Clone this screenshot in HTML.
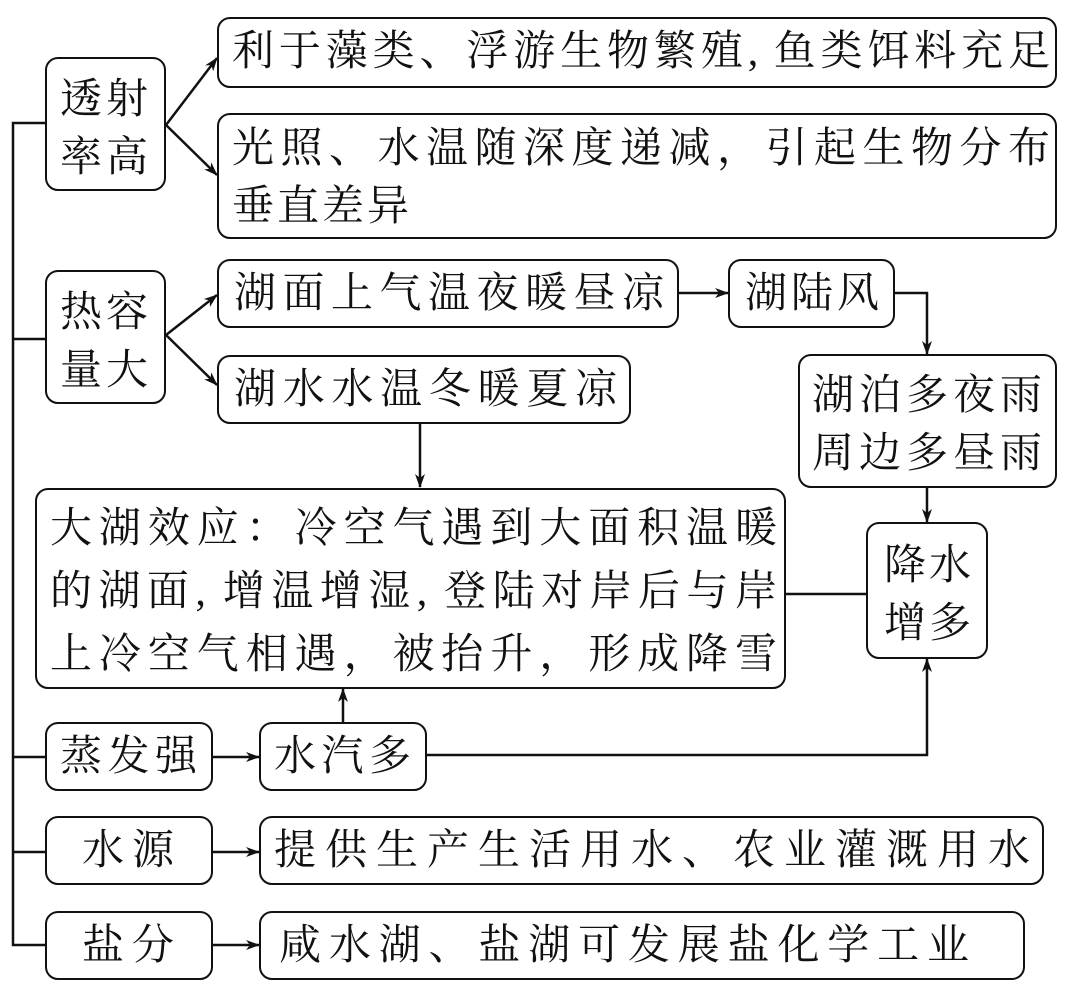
<!DOCTYPE html>
<html><head><meta charset="utf-8"><style>
body{margin:0;width:1080px;height:994px;background:#fff;position:relative;overflow:hidden;font-family:"Liberation Serif","Noto Serif CJK SC",serif;color:#111}
.b{position:absolute;border:2.5px solid #111;border-radius:13px;box-sizing:border-box;background:#fff}
.t{position:absolute;font-size:42px;line-height:42px;white-space:nowrap}
.j{position:absolute;font-size:42px;line-height:42px;white-space:nowrap;text-align:justify;text-align-last:justify}
svg{position:absolute;left:0;top:0}
</style></head><body>
<svg width="1080" height="994" viewBox="0 0 1080 994">
<defs><marker id="a" markerWidth="14" markerHeight="10" refX="13" refY="5" orient="auto" markerUnits="userSpaceOnUse"><path d="M0,0 L14,5 L0,10 L4,5 Z" fill="#111"/></marker></defs>
<g stroke="#111" stroke-width="2.5" fill="none">
<polyline points="45,123 13,123 13,945 45,945"/>
<line x1="13" y1="339" x2="45" y2="339"/>
<line x1="13" y1="757" x2="45" y2="757"/>
<line x1="13" y1="852" x2="45" y2="852"/>
<line x1="166" y1="125" x2="217" y2="58" marker-end="url(#a)"/>
<line x1="166" y1="125" x2="217" y2="175" marker-end="url(#a)"/>
<line x1="166" y1="335" x2="217" y2="295" marker-end="url(#a)"/>
<line x1="166" y1="335" x2="217" y2="385" marker-end="url(#a)"/>
<line x1="679" y1="293" x2="728" y2="293" marker-end="url(#a)"/>
<polyline points="895,293 927,293 927,354" marker-end="url(#a)"/>
<line x1="927" y1="487" x2="927" y2="522" marker-end="url(#a)"/>
<line x1="420" y1="423" x2="420" y2="487" marker-end="url(#a)"/>
<line x1="785" y1="594" x2="866" y2="594"/>
<line x1="212" y1="757" x2="259" y2="757" marker-end="url(#a)"/>
<line x1="343" y1="722" x2="343" y2="689" marker-end="url(#a)"/>
<polyline points="427,755 927,755 927,659" marker-end="url(#a)"/>
<line x1="212" y1="852" x2="259" y2="852" marker-end="url(#a)"/>
<line x1="212" y1="945" x2="259" y2="945" marker-end="url(#a)"/>
</g></svg>

<div class="b" style="left:45px;top:57px;width:121px;height:134px"></div>
<div class="t" style="left:60px;top:79px;letter-spacing:4px">透射</div>
<div class="t" style="left:60px;top:137px;letter-spacing:4px">率高</div>

<div class="b" style="left:217px;top:17px;width:840px;height:71px"></div>
<div class="j" style="left:232px;top:31px;width:818px">利于藻类、浮游生物繁殖, 鱼类饵料充足</div>

<div class="b" style="left:217px;top:113px;width:840px;height:126px"></div>
<div class="j" style="left:232px;top:128px;width:818px">光照、水温随深度递减，引起生物分布</div>
<div class="t" style="left:232px;top:186px;letter-spacing:3px">垂直差异</div>

<div class="b" style="left:45px;top:270px;width:121px;height:134px"></div>
<div class="t" style="left:60px;top:292px;letter-spacing:4px">热容</div>
<div class="t" style="left:60px;top:350px;letter-spacing:4px">量大</div>

<div class="b" style="left:217px;top:259px;width:462px;height:69px"></div>
<div class="j" style="left:234px;top:273px;width:430px">湖面上气温夜暖昼凉</div>

<div class="b" style="left:728px;top:259px;width:167px;height:69px"></div>
<div class="j" style="left:745px;top:273px;width:134px">湖陆风</div>

<div class="b" style="left:217px;top:355px;width:414px;height:69px"></div>
<div class="j" style="left:234px;top:369px;width:383px">湖水水温冬暖夏凉</div>

<div class="b" style="left:798px;top:354px;width:259px;height:134px"></div>
<div class="j" style="left:812px;top:375px;width:230px">湖泊多夜雨</div>
<div class="j" style="left:812px;top:433px;width:230px">周边多昼雨</div>

<div class="b" style="left:35px;top:488px;width:751px;height:201px"></div>
<div class="j" style="left:50px;top:508px;width:727px">大湖效应：冷空气遇到大面积温暖</div>
<div class="j" style="left:50px;top:571px;width:727px">的湖面, 增温增湿, 登陆对岸后与岸</div>
<div class="j" style="left:50px;top:634px;width:727px">上冷空气相遇，被抬升，形成降雪</div>

<div class="b" style="left:866px;top:522px;width:122px;height:137px"></div>
<div class="t" style="left:884px;top:545px;letter-spacing:3px">降水</div>
<div class="t" style="left:884px;top:603px;letter-spacing:3px">增多</div>

<div class="b" style="left:45px;top:722px;width:168px;height:69px"></div>
<div class="j" style="left:60px;top:736px;width:137px">蒸发强</div>

<div class="b" style="left:259px;top:722px;width:168px;height:69px"></div>
<div class="j" style="left:274px;top:736px;width:137px">水汽多</div>

<div class="b" style="left:45px;top:816px;width:168px;height:69px"></div>
<div class="j" style="left:82px;top:830px;width:92px">水源</div>

<div class="b" style="left:259px;top:816px;width:785px;height:69px"></div>
<div class="j" style="left:274px;top:830px;width:756px">提供生产生活用水、农业灌溉用水</div>

<div class="b" style="left:45px;top:911px;width:168px;height:69px"></div>
<div class="j" style="left:82px;top:925px;width:92px">盐分</div>

<div class="b" style="left:259px;top:911px;width:766px;height:69px"></div>
<div class="j" style="left:279px;top:925px;width:690px">咸水湖、盐湖可发展盐化学工业</div>
</body></html>
